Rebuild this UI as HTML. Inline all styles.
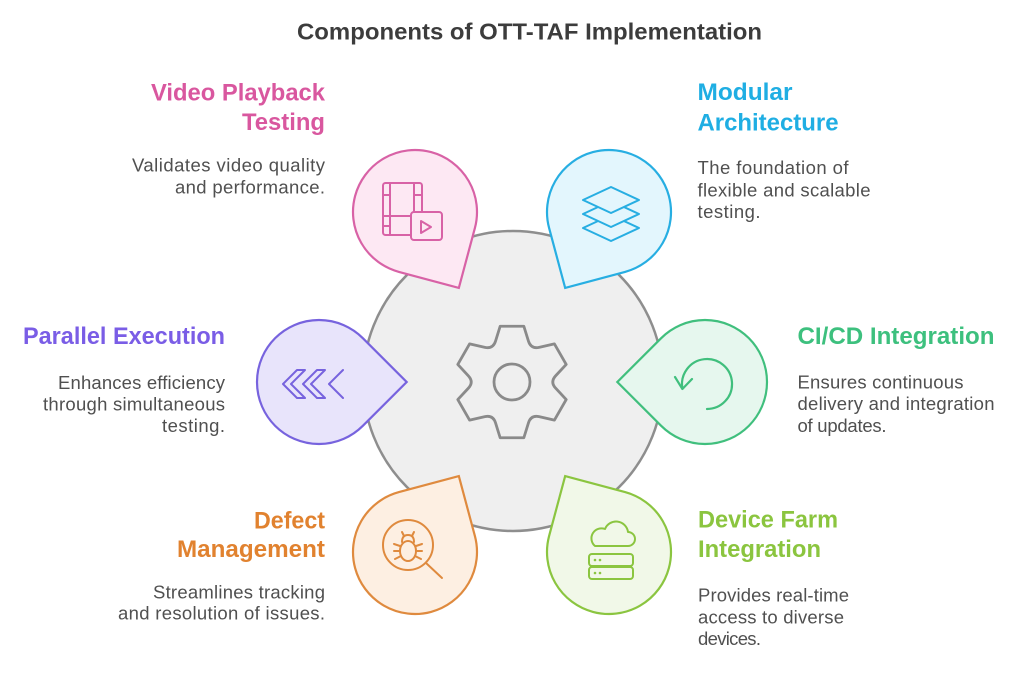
<!DOCTYPE html>
<html>
<head>
<meta charset="utf-8">
<style>
  html,body{margin:0;padding:0;background:#fff;}
  svg{display:block;}
  text{font-family:"Liberation Sans", Arial, sans-serif;}
  .t{font-weight:bold;font-size:24px;}
  .d{font-size:18.5px;fill:#505050;}
</style>
</head>
<body>
<svg width="1024" height="673" viewBox="0 0 1024 673" xmlns="http://www.w3.org/2000/svg">
  <rect width="1024" height="673" fill="#ffffff"/>

  <!-- Title -->
  <text x="297" y="39.5" font-size="23.5" font-weight="bold" fill="#3c3c3c" textLength="465" lengthAdjust="spacingAndGlyphs">Components of OTT-TAF Implementation</text>

  <!-- Central circle -->
  <circle cx="513" cy="381" r="150" fill="#efefef" stroke="#8e8e8e" stroke-width="2.5"/>

  <!-- Gear -->
  <path d="M495.52,341.2 L500.15,326.25 L523.85,326.25 L528.48,341.2 Q531,349.09 539.09,347.33 L554.36,343.86 L566.21,364.39 L555.57,375.88 Q550,382 555.57,388.12 L566.21,399.61 L554.36,420.14 L539.09,416.67 Q531,414.91 528.48,422.8 L523.85,437.75 L500.15,437.75 L495.52,422.8 Q493,414.91 484.91,416.67 L469.64,420.14 L457.79,399.61 L468.43,388.12 Q474,382 468.43,375.88 L457.79,364.39 L469.64,343.86 L484.91,347.33 Q493,349.09 495.52,341.2 Z" fill="none" stroke="#8a8a8a" stroke-width="2.8" stroke-linejoin="round"/>
  <circle cx="512" cy="382" r="18" fill="none" stroke="#8a8a8a" stroke-width="2.8"/>

  <!-- Teardrops -->
  <defs>
    <path id="drop" d="M43.84,-43.84 L87.68,0 L43.84,43.84 A62,62 0 1 1 43.84,-43.84 Z"/>
  </defs>
  <use href="#drop" transform="translate(415,212) rotate(60)" fill="#fde8f3" stroke="#d862a6" stroke-width="2.2"/>
  <use href="#drop" transform="translate(609,212) rotate(120)" fill="#e3f6fd" stroke="#27aee2" stroke-width="2.2"/>
  <use href="#drop" transform="translate(319,382) rotate(0)" fill="#e8e4fb" stroke="#7763de" stroke-width="2.2"/>
  <use href="#drop" transform="translate(705,382) rotate(180)" fill="#e6f7ee" stroke="#40bf7d" stroke-width="2.2"/>
  <use href="#drop" transform="translate(415,552) rotate(-60)" fill="#fdefe2" stroke="#df8a3e" stroke-width="2.2"/>
  <use href="#drop" transform="translate(609,552) rotate(-120)" fill="#f1f8e8" stroke="#8bc540" stroke-width="2.2"/>

  <!-- Pink icon: film + play -->
  <g fill="none" stroke="#d862a6" stroke-width="2" stroke-linecap="round" stroke-linejoin="round">
    <path d="M411,235 H385.5 a2.5,2.5 0 0 1 -2.5,-2.5 V185.5 a2.5,2.5 0 0 1 2.5,-2.5 H419.5 a2.5,2.5 0 0 1 2.5,2.5 V211"/>
    <path d="M390,183 V235"/>
    <path d="M414,183 V211"/>
    <path d="M383,195 H390"/>
    <path d="M383,226 H390"/>
    <path d="M383,216 H411"/>
    <path d="M414,195 H422"/>
    <rect x="411" y="212" width="31" height="28" rx="3"/>
    <path d="M421,221 L431,227 L421,233 Z"/>
  </g>

  <!-- Blue icon: layers -->
  <g fill="#e3f6fd" stroke="#27aee2" stroke-width="2" stroke-linejoin="round">
    <path d="M583,228 L611,215 L639,228 L611,241 Z"/>
    <path d="M583,214 L611,201 L639,214 L611,227 Z"/>
    <path d="M583,200 L611,187 L639,200 L611,213 Z"/>
  </g>

  <!-- Purple icon: chevrons -->
  <g fill="none" stroke="#7763de" stroke-width="2" stroke-linejoin="round" stroke-linecap="round">
    <path d="M283,384 L297,370 L305,370 L291,384 L305,398 L297,398 Z"/>
    <path d="M303,384 L317,370 L325,370 L311,384 L325,398 L317,398 Z"/>
    <path d="M343,370 L329,384 L343,398"/>
  </g>

  <!-- Green icon: rotate arrow -->
  <g fill="none" stroke="#40bf7d" stroke-width="2.2" stroke-linecap="round" stroke-linejoin="round">
    <path d="M682.4,388.3 A25,25 0 1 1 707,409"/>
    <path d="M675,377 L682.4,389 L692,379"/>
  </g>

  <!-- Orange icon: bug in magnifier -->
  <g fill="none" stroke="#df8a3e" stroke-width="2" stroke-linecap="round" stroke-linejoin="round">
    <circle cx="408" cy="545" r="25"/>
    <path d="M426,563 L442,578"/>
    <ellipse cx="408" cy="551" rx="8" ry="10"/>
    <path d="M402,542 Q402,535 408,535 Q414,535 414,542"/>
    <path d="M404,536 L402,532"/>
    <path d="M412,536 L414,532"/>
    <path d="M400,546 L394,544"/>
    <path d="M400,551 L394,551"/>
    <path d="M401,556 L395,559"/>
    <path d="M416,546 L422,544"/>
    <path d="M416,551 L422,551"/>
    <path d="M415,556 L421,559"/>
  </g>

  <!-- Lime icon: cloud + servers -->
  <g fill="none" stroke="#8bc540" stroke-width="2" stroke-linecap="round" stroke-linejoin="round">
    <path d="M595,546 H628 A7,7 0 0 0 628,532 A12,12 0 0 0 605,529 A10,10 0 0 0 595,546 Z"/>
    <rect x="589" y="554" width="44" height="12" rx="3"/>
    <rect x="589" y="567" width="44" height="12" rx="3"/>
  </g>
  <g fill="#8bc540">
    <circle cx="595" cy="560" r="1.3"/>
    <circle cx="600" cy="560" r="1.3"/>
    <circle cx="595" cy="573" r="1.3"/>
    <circle cx="600" cy="573" r="1.3"/>
  </g>

  <!-- Video Playback Testing -->
  <g text-anchor="end">
    <text class="t" x="325" y="100.5" fill="#d9579f" textLength="174" lengthAdjust="spacingAndGlyphs">Video Playback</text>
    <text class="t" x="325" y="130" fill="#d9579f" textLength="83" lengthAdjust="spacingAndGlyphs">Testing</text>
    <text class="d" x="325" y="171.5" textLength="193" lengthAdjust="spacing">Validates video quality</text>
    <text class="d" x="325" y="193.5" textLength="150" lengthAdjust="spacing">and performance.</text>
  </g>

  <!-- Modular Architecture -->
  <g>
    <text class="t" x="697.5" y="100" fill="#1faee3" textLength="95" lengthAdjust="spacingAndGlyphs">Modular</text>
    <text class="t" x="697.5" y="130.5" fill="#1faee3" textLength="141" lengthAdjust="spacingAndGlyphs">Architecture</text>
    <text class="d" x="697.5" y="174" textLength="151" lengthAdjust="spacing">The foundation of</text>
    <text class="d" x="697.5" y="196.5" textLength="173" lengthAdjust="spacing">flexible and scalable</text>
    <text class="d" x="697.5" y="218" textLength="63" lengthAdjust="spacing">testing.</text>
  </g>

  <!-- Parallel Execution -->
  <g text-anchor="end">
    <text class="t" x="225" y="344" fill="#7a5de6" textLength="202" lengthAdjust="spacingAndGlyphs">Parallel Execution</text>
    <text class="d" x="225" y="389" textLength="167" lengthAdjust="spacing">Enhances efficiency</text>
    <text class="d" x="225" y="410.5" textLength="182" lengthAdjust="spacing">through simultaneous</text>
    <text class="d" x="225" y="432" textLength="63" lengthAdjust="spacing">testing.</text>
  </g>

  <!-- CI/CD Integration -->
  <g>
    <text class="t" x="797.5" y="344" fill="#3dc07e" textLength="197" lengthAdjust="spacingAndGlyphs">CI/CD Integration</text>
    <text class="d" x="797.5" y="388.5" textLength="166" lengthAdjust="spacing">Ensures continuous</text>
    <text class="d" x="797.5" y="410" textLength="197" lengthAdjust="spacing">delivery and integration</text>
    <text class="d" x="797.5" y="432" textLength="89" lengthAdjust="spacing">of updates.</text>
  </g>

  <!-- Defect Management -->
  <g text-anchor="end">
    <text class="t" x="325" y="528.5" fill="#e1822f" textLength="71" lengthAdjust="spacingAndGlyphs">Defect</text>
    <text class="t" x="325" y="557" fill="#e1822f" textLength="148" lengthAdjust="spacingAndGlyphs">Management</text>
    <text class="d" x="325" y="598.5" textLength="172" lengthAdjust="spacing">Streamlines tracking</text>
    <text class="d" x="325" y="619.5" textLength="207" lengthAdjust="spacing">and resolution of issues.</text>
  </g>

  <!-- Device Farm Integration -->
  <g>
    <text class="t" x="698" y="527.5" fill="#8bc53f" textLength="140" lengthAdjust="spacingAndGlyphs">Device Farm</text>
    <text class="t" x="698" y="557" fill="#8bc53f" textLength="123" lengthAdjust="spacingAndGlyphs">Integration</text>
    <text class="d" x="698" y="601.5" textLength="151" lengthAdjust="spacing">Provides real-time</text>
    <text class="d" x="698" y="623.5" textLength="146" lengthAdjust="spacing">access to diverse</text>
    <text class="d" x="698" y="645" textLength="63" lengthAdjust="spacing">devices.</text>
  </g>
</svg>
</body>
</html>
